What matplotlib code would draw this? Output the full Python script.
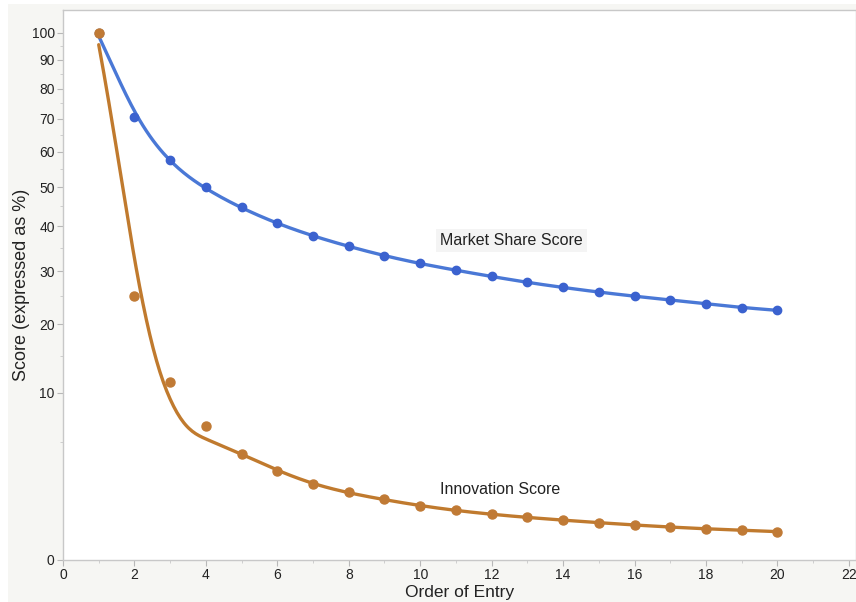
import numpy as np
import matplotlib
matplotlib.use("Agg")
import matplotlib.pyplot as plt
from matplotlib.patches import Rectangle
from matplotlib.ticker import MultipleLocator, FixedLocator

# ---- data ----
order = [1, 2, 3, 4, 5, 6, 7, 8, 9, 10, 11, 12, 13, 14, 15, 16, 17, 18, 19, 20]
market_share = [100, 70.7, 57.7, 50.0, 44.7, 40.8, 37.8, 35.4, 33.3, 31.6,
                30.2, 28.9, 27.7, 26.7, 25.8, 25.0, 24.3, 23.6, 22.9, 22.4]
innovation = [100, 25.1, 11.3, 6.4, 4.05, 2.85, 2.08, 1.62, 1.30, 1.05,
              0.87, 0.74, 0.64, 0.56, 0.49, 0.43, 0.38, 0.34, 0.31, 0.28]
y_ticks = [0, 10, 20, 30, 40, 50, 60, 70, 80, 90, 100]
y_minor = [5, 15, 25, 35, 45, 55, 65, 75, 85, 95]
x_ticks = [0, 2, 4, 6, 8, 10, 12, 14, 16, 18, 20, 22]

SMOOTH = 0.08


def smoothing_spline(x, y, alpha, xs):
    x = np.asarray(x, float)
    y = np.asarray(y, float)
    n = len(x)
    h = np.diff(x)
    Q = np.zeros((n, n - 2))
    R = np.zeros((n - 2, n - 2))
    for j in range(1, n - 1):
        Q[j - 1, j - 1] = 1 / h[j - 1]
        Q[j, j - 1] = -1 / h[j - 1] - 1 / h[j]
        Q[j + 1, j - 1] = 1 / h[j]
        R[j - 1, j - 1] = (h[j - 1] + h[j]) / 3
        if j < n - 2:
            R[j - 1, j] = h[j] / 6
            R[j, j - 1] = h[j] / 6
    K = Q @ np.linalg.solve(R, Q.T)
    g = np.linalg.solve(np.eye(n) + alpha * K, y)
    gam = np.zeros(n)
    gam[1:-1] = np.linalg.solve(R, Q.T @ g)
    out = np.empty_like(xs)
    for k, t in enumerate(xs):
        i = min(max(np.searchsorted(x, t) - 1, 0), n - 2)
        a = t - x[i]
        b = x[i + 1] - t
        hi = h[i]
        out[k] = (a * g[i + 1] + b * g[i]) / hi - a * b / 6 * (
            (1 + a / hi) * gam[i + 1] + (1 + b / hi) * gam[i])
    return out


plt.rcParams['font.family'] = ['Liberation Sans', 'DejaVu Sans']

fig = plt.figure(figsize=(8.56, 6.02), dpi=100)
fig.patch.set_facecolor('white')
fig.patches.append(Rectangle((8 / 856, 0), 1, 1 - 4 / 602, transform=fig.transFigure,
                             facecolor='#f6f6f3', edgecolor='none', zorder=-10))

ax = fig.add_axes([63 / 856, 1 - 559.5 / 602, 1 - 63 / 856, (559.5 - 10) / 602])
ax.set_facecolor('white')

fwd = lambda v: np.sqrt(np.clip(v, 0, None))
inv = lambda v: np.square(v)
ax.set_yscale('function', functions=(fwd, inv))

blue_line = '#4a78d6'
blue_dot = '#3b62cf'
orange_line = '#c07a2e'
orange_dot = '#c07a35'

xs = np.linspace(1, 20, 400)
ms_fit = smoothing_spline(order, market_share, SMOOTH, xs)
in_fit = smoothing_spline(order, innovation, SMOOTH, xs)

ax.plot(xs, ms_fit, color=blue_line, lw=2.4, zorder=2, solid_capstyle='round')
ax.plot(order, market_share, 'o', color=blue_dot, ms=6, zorder=3)
ax.plot(xs, in_fit, color=orange_line, lw=2.4, zorder=2, solid_capstyle='round')
ax.plot(order, innovation, 'o', color=orange_dot, ms=6.5, zorder=4)

ax.text(12.55, 36.6, 'Market Share Score', ha='center', va='center', fontsize=11.5,
        color='#222222', bbox=dict(boxstyle='square,pad=0.25', fc='#f4f4f4', ec='none'))
ax.text(12.25, 1.79, 'Innovation Score', ha='center', va='center', fontsize=11.5,
        color='#222222')

ax.set_xlim(0, 22.2)
ax.set_ylim(0, 108.9)
ax.xaxis.set_major_locator(FixedLocator(x_ticks))
ax.xaxis.set_minor_locator(MultipleLocator(1))
ax.yaxis.set_major_locator(FixedLocator(y_ticks))
ax.yaxis.set_minor_locator(FixedLocator(y_minor))
ax.set_yticklabels([str(t) for t in y_ticks])
ax.set_xticklabels([str(t) for t in x_ticks])

ax.tick_params(which='major', length=4, width=0.8, color='#b8b8b8', labelsize=10,
               labelcolor='#222222', pad=2)
ax.tick_params(which='minor', length=2.5, width=0.6, color='#c8c8c8')
for s in ax.spines.values():
    s.set_color('#c8c8c8')
    s.set_linewidth(1.0)

ax.set_xlabel('Order of Entry', fontsize=12.5, color='#222222', labelpad=2)
ax.set_ylabel('Score (expressed as %)', fontsize=13, color='#222222')
ax.yaxis.label.set_va('center')
ax.yaxis.set_label_coords((21.5 - 63) / 793, 0.5)

fig.savefig('out.png', dpi=100, facecolor=fig.get_facecolor())
